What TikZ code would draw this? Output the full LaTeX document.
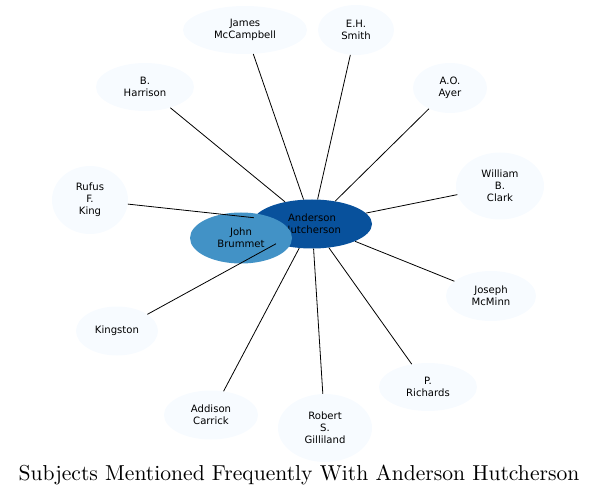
\documentclass[tikz,border=0pt]{standalone}
\usepackage{fontspec}
\newfontfamily\nodefont{DejaVu Sans}
\newfontfamily\titlefont{lmroman10-regular}[Extension=.otf]
\usetikzlibrary{shapes.geometric}
\definecolor{paleblue}{HTML}{F7FBFF}
\definecolor{darkblue}{HTML}{08519C}
\definecolor{midblue}{HTML}{4292C6}
\tikzset{
  ent/.style={ellipse, draw=none, fill=paleblue, inner sep=0pt, align=center,
    font=\nodefont\fontsize{10.1}{12}\selectfont, text=black},
  conn/.style={draw=black, line width=0.8pt}
}
\begin{document}
\begin{tikzpicture}[x=1pt,y=-1pt]
\useasboundingbox (0,0) rectangle (597,497);
\node[ent, minimum width=124, minimum height=48] (james) at (245,30) {James\\McCampbell};
\node[ent, minimum width=76, minimum height=50] (smith) at (356,30) {E.H.\\Smith};
\node[ent, minimum width=98, minimum height=48] (harrison) at (145,87) {B.\\Harrison};
\node[ent, minimum width=74, minimum height=50] (ayer) at (450,88) {A.O.\\Ayer};
\node[ent, minimum width=88, minimum height=67] (clark) at (500,186) {William\\B.\\Clark};
\node[ent, minimum width=76, minimum height=68] (king) at (90,200) {Rufus\\F.\\King};
\node[ent, minimum width=90, minimum height=50] (mcminn) at (491,296) {Joseph\\McMinn};
\node[ent, minimum width=82, minimum height=49] (kingston) at (117,331) {Kingston};
\node[ent, minimum width=98, minimum height=48] (richards) at (428,387) {P.\\Richards};
\node[ent, minimum width=94, minimum height=49] (carrick) at (211,415) {Addison\\Carrick};
\node[ent, minimum width=94, minimum height=68] (gilliland) at (325,428) {Robert\\S.\\Gilliland};
\node[ent, fill=darkblue, minimum width=120, minimum height=49] (anderson) at (312,224) {Anderson\\Hutcherson};
\node[ent, fill=midblue, minimum width=102, minimum height=51] (brummet) at (241,238) {John\\Brummet};
\foreach \n in {james,smith,harrison,ayer,clark,king,mcminn,kingston,richards,carrick,gilliland}
  \draw[conn] (\n) -- (anderson);
\node[anchor=base, font=\titlefont\fontsize{21.6}{24}\selectfont] (title) at (299,480) {Subjects Mentioned Frequently With Anderson Hutcherson};
\end{tikzpicture}
\end{document}
